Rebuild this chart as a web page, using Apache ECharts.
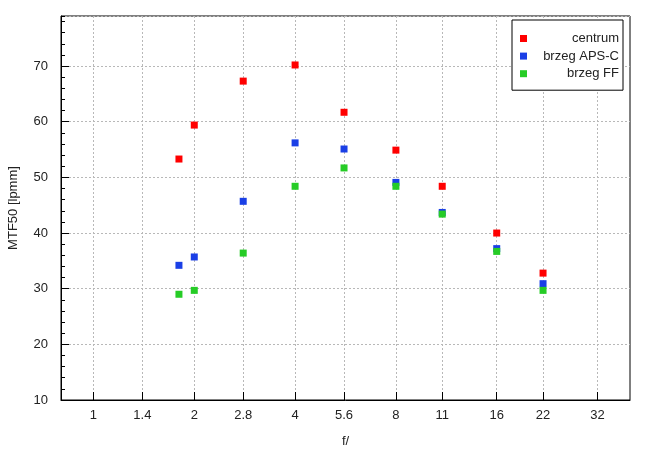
<!DOCTYPE html>
<html>
<head>
<meta charset="utf-8">
<script src="https://cdn.jsdelivr.net/npm/echarts@6/dist/echarts.min.js"></script>
<style>
  html, body { margin: 0; padding: 0; background: #fff; }
  #chart { width: 655px; height: 455px; }
</style>
</head>
<body>
<div id="chart"></div>
<script>
// f-numbers (x) for measured points
var apertures = [1.8, 2, 2.8, 4, 5.6, 8, 11, 16, 22];
// MTF50 values [lpmm]
var centrum   = [53.3, 59.4, 67.3, 70.2, 61.7, 54.9, 48.4, 40.0, 32.8];
var brzegAPSC = [34.2, 35.7, 45.7, 56.2, 55.1, 49.1, 43.7, 37.2, 30.9];
var brzegFF   = [29.0, 29.7, 36.4, 48.4, 51.7, 48.4, 43.4, 36.7, 29.7];
// x tick labels (f-stops)
var xTicks = [1, 1.4, 2, 2.8, 4, 5.6, 8, 11, 16, 22, 32];
var seriesNames = ['centrum', 'brzeg APS-C', 'brzeg FF'];
var seriesColors = ['#ff0000', '#1a3fe6', '#26cc26'];

function pairs(xs, ys) { return xs.map(function (x, i) { return [x, ys[i]]; }); }

var FONT = 'Liberation Sans, Arial, sans-serif';
var TXT = '#222';
var chart = echarts.init(document.getElementById('chart'), null, { renderer: 'canvas' });

var seriesData = [centrum, brzegAPSC, brzegFF];
chart.setOption({
  animation: false,
  backgroundColor: '#fff',
  grid: { left: 61, right: 25, top: 16, bottom: 55, show: true, borderColor: '#000', borderWidth: 1,
    backgroundColor: 'transparent', containLabel: false, outerBoundsMode: 'none' },
  legend: {
    orient: 'vertical',
    right: 32, top: 20,
    padding: [12, 4, 10, 8],
    itemGap: 4.6,
    itemWidth: 7, itemHeight: 7,
    icon: 'rect',
    borderColor: '#000', borderWidth: 1, backgroundColor: '#fff',
    data: seriesNames,
    formatter: function (n) { return '{t|' + n + '}'; },
    textStyle: {
      fontFamily: FONT, fontSize: 13, color: TXT,
      rich: { t: { width: 87, align: 'right', fontFamily: FONT, fontSize: 13, color: TXT, lineHeight: 14 } }
    }
  },
  xAxis: {
    type: 'log',
    min: 0.8, max: 40,
    name: 'f/',
    nameLocation: 'middle',
    nameGap: 35,
    nameTextStyle: { fontFamily: FONT, fontSize: 13, color: TXT },
    axisLine: { lineStyle: { color: '#000', width: 1 } },
    axisTick: { inside: true, length: 8, lineStyle: { color: '#000' }, customValues: xTicks },
    axisLabel: { customValues: xTicks, margin: 9, fontFamily: FONT, fontSize: 13, color: TXT,
      formatter: function (v) { return String(v); } },
    splitLine: { show: true, lineStyle: { color: '#b8b8b8', type: [2, 2], width: 1 } },
    minorTick: { show: false }, minorSplitLine: { show: false }
  },
  yAxis: [{
    type: 'value',
    min: 10, max: 79, interval: 10,
    position: 'left',
    name: 'MTF50 [lpmm]',
    nameLocation: 'middle',
    nameGap: 41,
    nameTextStyle: { fontFamily: FONT, fontSize: 13, color: TXT },
    axisLine: { show: true, lineStyle: { color: '#000', width: 1 } },
    axisTick: { inside: true, length: 8, lineStyle: { color: '#000' } },
    axisLabel: { margin: 13, fontFamily: FONT, fontSize: 13, color: TXT, showMaxLabel: false,
      formatter: function (v) { return v % 10 === 0 ? String(v) : ''; } },
    splitLine: { show: true, lineStyle: { color: '#b8b8b8', type: [2, 2], width: 1 } }
  }, {
    type: 'value',
    min: 10, max: 79, interval: 2,
    position: 'left',
    axisLine: { show: false },
    axisTick: { show: true, inside: true, length: 4, lineStyle: { color: '#000' } },
    axisLabel: { show: false },
    splitLine: { show: false }
  }],
  series: seriesNames.map(function (n, i) {
    return {
      name: n,
      type: 'scatter',
      symbol: 'rect',
      symbolSize: 7,
      yAxisIndex: 0,
      itemStyle: { color: seriesColors[i], opacity: 1 },
      emphasis: { disabled: true },
      data: pairs(apertures, seriesData[i])
    };
  })
});
</script>
</body>
</html>
